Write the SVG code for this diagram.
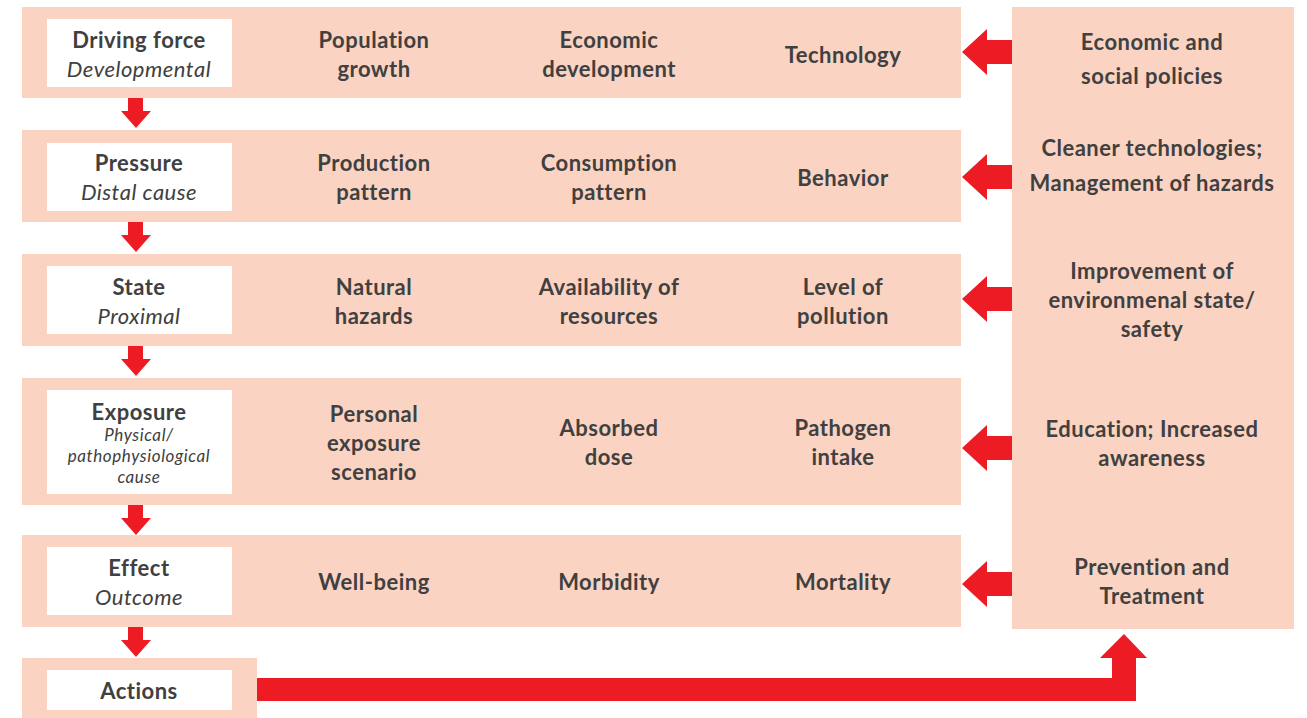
<svg xmlns="http://www.w3.org/2000/svg" width="1307" height="718" viewBox="0 0 1307 718">
<style>
.band{fill:#FBD3C2}
.box{fill:#FFFFFF}
.arr{fill:#ED1C24}
text{font-family:Lato,"Open Sans","Liberation Sans",sans-serif;fill:#404040;text-anchor:middle}
.b{font-weight:bold;font-size:22px;letter-spacing:0.5px}
.i{font-style:italic;font-size:22px;letter-spacing:0.5px}
.s{font-style:italic;font-size:17px;letter-spacing:0.6px}
</style>
<rect width="1307" height="718" fill="#FFFFFF"/>
<g id="connectors">
<path class="arr" d="M128,98 H143 V111 H151 L136,128 L121,111 H128 Z"/>
<path class="arr" d="M128,222 H143 V235 H151 L136,252 L121,235 H128 Z"/>
<path class="arr" d="M128,346 H143 V359 H151 L136,376 L121,359 H128 Z"/>
<path class="arr" d="M128,505 H143 V518 H151 L136,535 L121,518 H128 Z"/>
<path class="arr" d="M128,627 H143 V640 H151 L136,657 L121,640 H128 Z"/>
<path class="arr" d="M1012,40 V64 H987 V75 L962,52 L987,29 V40 Z"/>
<path class="arr" d="M1012,165 V189 H987 V200 L962,177 L987,154 V165 Z"/>
<path class="arr" d="M1012,287 V311 H987 V322 L962,299 L987,276 V287 Z"/>
<path class="arr" d="M1012,436 V460 H987 V471 L962,448 L987,425 V436 Z"/>
<path class="arr" d="M1012,572 V596 H987 V607 L962,584 L987,561 V572 Z"/>
<path class="arr" d="M257,678 H1112 V658 H1100 L1124,634 L1147,658 H1136 V701 H257 Z"/>
</g>
<g id="row1">
<rect class="band" x="22" y="7" width="939" height="91"/>
<rect class="box" x="47" y="19" width="185" height="68"/>
<text class="b" x="139" y="48">Driving force</text>
<text class="i" x="139" y="77">Developmental</text>
<text class="b" x="374" y="48">Population</text>
<text class="b" x="374" y="77">growth</text>
<text class="b" x="609" y="48">Economic</text>
<text class="b" x="609" y="77">development</text>
<text class="b" x="843" y="63">Technology</text>
</g>
<g id="row2">
<rect class="band" x="22" y="130" width="939" height="92"/>
<rect class="box" x="47" y="143" width="185" height="68"/>
<text class="b" x="139" y="171">Pressure</text>
<text class="i" x="139" y="200">Distal cause</text>
<text class="b" x="374" y="171">Production</text>
<text class="b" x="374" y="200">pattern</text>
<text class="b" x="609" y="171">Consumption</text>
<text class="b" x="609" y="200">pattern</text>
<text class="b" x="843" y="186">Behavior</text>
</g>
<g id="row3">
<rect class="band" x="22" y="254" width="939" height="92"/>
<rect class="box" x="47" y="266" width="185" height="68"/>
<text class="b" x="139" y="295">State</text>
<text class="i" x="139" y="324">Proximal</text>
<text class="b" x="374" y="295">Natural</text>
<text class="b" x="374" y="324">hazards</text>
<text class="b" x="609" y="295">Availability of</text>
<text class="b" x="609" y="324">resources</text>
<text class="b" x="843" y="295">Level of</text>
<text class="b" x="843" y="324">pollution</text>
</g>
<g id="row4">
<rect class="band" x="22" y="378" width="939" height="127"/>
<rect class="box" x="47" y="390" width="185" height="104"/>
<text class="b" x="139" y="420">Exposure</text>
<text class="s" x="139" y="441">Physical/</text>
<text class="s" x="139" y="462">pathophysiological</text>
<text class="s" x="139" y="483">cause</text>
<text class="b" x="374" y="422">Personal</text>
<text class="b" x="374" y="451">exposure</text>
<text class="b" x="374" y="480">scenario</text>
<text class="b" x="609" y="436">Absorbed</text>
<text class="b" x="609" y="465">dose</text>
<text class="b" x="843" y="436">Pathogen</text>
<text class="b" x="843" y="465">intake</text>
</g>
<g id="row5">
<rect class="band" x="22" y="535" width="939" height="92"/>
<rect class="box" x="47" y="547" width="185" height="68"/>
<text class="b" x="139" y="576">Effect</text>
<text class="i" x="139" y="605">Outcome</text>
<text class="b" x="374" y="590">Well-being</text>
<text class="b" x="609" y="590">Morbidity</text>
<text class="b" x="843" y="590">Mortality</text>
</g>
<g id="actions">
<rect class="band" x="22" y="658" width="235" height="60"/>
<rect class="box" x="47" y="670" width="185" height="40"/>
<text class="b" x="139" y="699">Actions</text>
</g>
<g id="responses">
<rect class="band" x="1012" y="7" width="282" height="622"/>
<text class="b" x="1152" y="50">Economic and</text>
<text class="b" x="1152" y="84">social policies</text>
<text class="b" x="1152" y="156">Cleaner technologies;</text>
<text class="b" x="1152" y="191">Management of hazards</text>
<text class="b" x="1152" y="279">Improvement of</text>
<text class="b" x="1152" y="308">environmenal state/</text>
<text class="b" x="1152" y="337">safety</text>
<text class="b" x="1152" y="437">Education; Increased</text>
<text class="b" x="1152" y="466">awareness</text>
<text class="b" x="1152" y="575">Prevention and</text>
<text class="b" x="1152" y="604">Treatment</text>
</g>
</svg>
